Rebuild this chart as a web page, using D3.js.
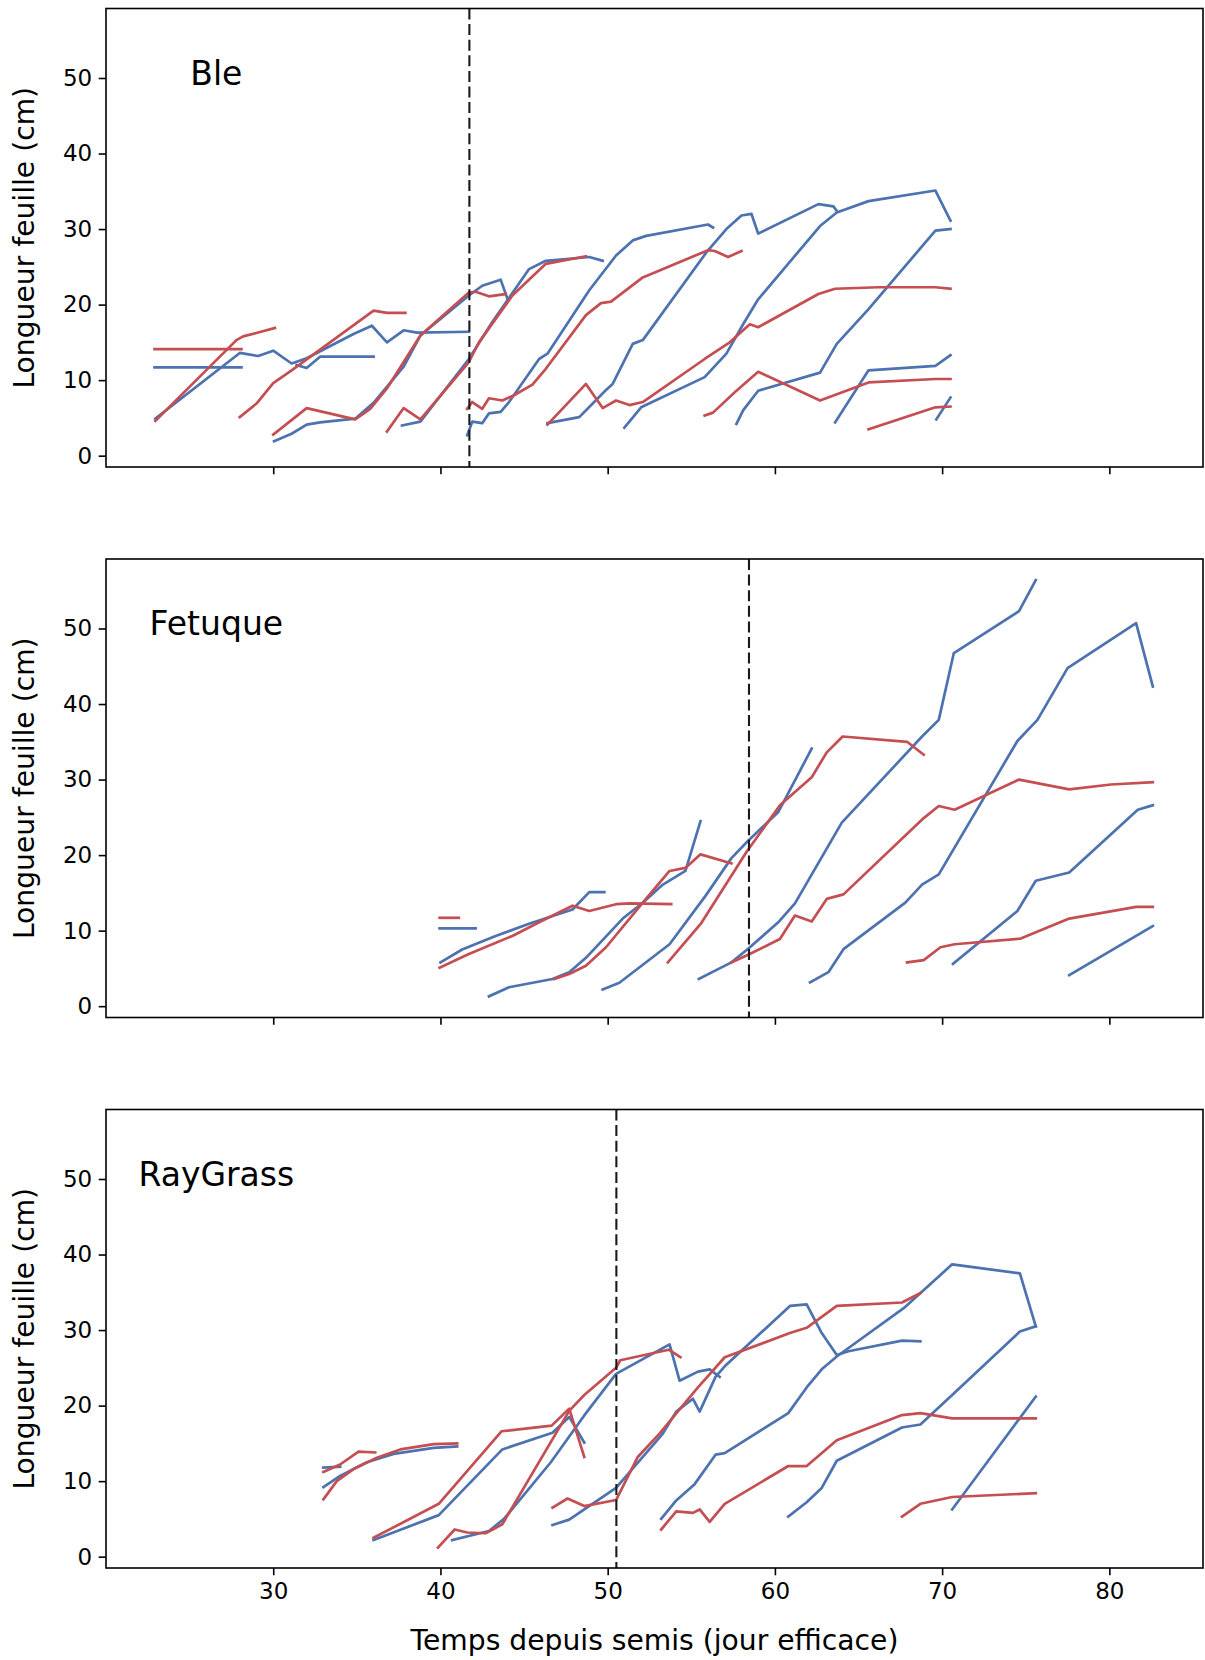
<!DOCTYPE html>
<html>
<head>
<meta charset="utf-8">
<script src="https://d3js.org/d3.v7.min.js"></script>
<style>
  body { margin: 0; background: #ffffff; }
  svg { display: block; font-family: "DejaVu Sans", sans-serif; }
  .leaf { fill: none; stroke-width: 2.7; stroke-linejoin: round; stroke-linecap: square; }
  .frame { fill: none; stroke: #000000; stroke-width: 1.6; }
  .axis text { font-size: 23px; fill: #000000; font-family: "DejaVu Sans", sans-serif; }
  .axis line { stroke: #000000; stroke-width: 1.6; }
</style>
</head>
<body>
<svg id="canvas" width="1205" height="1660"></svg>
<script>
  // panels (one per species), each with blue and red leaf curves
  const species = ["Ble", "Fetuque", "RayGrass"];
  const xTicks = [30, 40, 50, 60, 70, 80];
  const yTicks = [0, 10, 20, 30, 40, 50];
  const dashX = [41.73, 58.45, 50.52];

  const bleBlue = [
    [[22.9,11.7],[28.1,11.7]],
    [[22.95,4.9],[28.0,13.6],[29.1,13.2],[30.0,13.9],[31.1,12.2],[32.0,12.9],[34.8,16.1],[35.9,17.2],[36.8,15.0],[37.8,16.6],[38.6,16.3],[41.7,16.4]],
    [[31.4,12.0],[32.0,11.6],[32.8,13.1],[36.0,13.1]],
    [[30.05,1.9],[31.1,2.9],[32.0,4.1],[32.8,4.4],[34.9,4.9],[36.0,7.0],[37.8,11.8],[38.8,15.9],[41.7,21.2],[42.5,22.5],[43.6,23.3],[44.0,20.8]],
    [[37.7,4.0],[38.8,4.5],[41.7,12.8],[43.1,17.7],[45.3,24.7],[46.3,25.8],[48.9,26.3],[49.7,25.8]],
    [[41.6,2.7],[41.9,4.5],[42.5,4.3],[42.9,5.6],[43.6,5.8],[44.1,7.1],[45.9,12.8],[46.4,13.5],[48.9,21.9],[50.5,26.5],[51.5,28.5],[52.3,29.1],[56.0,30.6],[56.3,30.2]],
    [[46.4,4.3],[48.3,5.1],[49.9,8.7],[50.3,9.5],[51.5,14.8],[52.1,15.3],[55.9,26.9],[57.1,30.0],[58.0,31.8],[58.6,32.0],[59.0,29.4],[62.6,33.3],[63.5,33.0],[63.7,32.4]],
    [[51.0,3.7],[52.0,6.4],[55.8,10.4],[57.1,13.5],[58.1,17.4],[59.0,20.7],[62.7,30.4],[63.7,32.2],[65.6,33.7],[69.6,35.1],[70.5,31.1]],
    [[57.7,4.2],[58.1,6.0],[59.0,8.6],[62.7,11.0],[63.7,14.8],[65.6,19.4],[69.6,29.8],[70.5,30.0]],
    [[63.6,4.4],[65.6,11.3],[69.6,11.9],[70.5,13.3]],
    [[69.65,4.8],[70.5,7.7]]
  ];
  const bleRed = [
    [[22.9,14.1],[28.1,14.1]],
    [[22.95,4.6],[27.8,15.3],[28.2,15.8],[29.1,16.3],[30.1,16.9]],
    [[28.0,5.1],[29.0,6.9],[30.0,9.6],[31.1,11.3],[36.0,19.2],[36.8,18.9],[37.9,18.9]],
    [[30.0,2.8],[32.0,6.3],[34.9,4.8],[35.8,6.2],[36.8,8.9],[38.8,15.9],[41.7,21.6],[42.1,21.7],[42.9,21.1],[43.9,21.4]],
    [[36.8,3.2],[37.8,6.3],[38.8,4.8],[41.7,12.4],[42.3,15.0],[44.3,21.2],[46.3,25.4],[48.7,26.4]],
    [[41.6,6.2],[41.9,7.1],[42.5,6.2],[42.9,7.6],[43.7,7.3],[44.4,8.0],[45.5,9.4],[46.3,11.5],[48.7,18.6],[49.6,20.2],[50.2,20.4],[52.1,23.6],[56.0,27.2],[56.4,27.1],[57.2,26.3],[58.0,27.1]],
    [[46.4,4.1],[48.7,9.5],[49.7,6.3],[50.5,7.3],[51.3,6.7],[52.1,7.1],[55.8,12.8],[57.3,15.0],[58.5,17.4],[59.0,17.0],[62.6,21.4],[63.6,22.1],[66.2,22.3],[69.6,22.3],[70.5,22.1]],
    [[55.8,5.3],[56.3,5.7],[57.6,8.4],[59.0,11.1],[62.7,7.3],[65.6,9.7],[69.6,10.15],[70.5,10.15]],
    [[65.6,3.5],[69.6,6.4],[70.5,6.5]]
  ];

  const fetuqueBlue = [
    [[39.95,10.3],[42.1,10.3]],
    [[40.0,5.8],[41.3,7.5],[43.3,9.3],[45.3,10.9],[47.9,12.8],[48.9,15.1],[49.8,15.1]],
    [[42.9,1.3],[44.1,2.5],[46.7,3.6],[47.7,4.5],[48.7,6.4],[50.9,11.6],[52.1,13.7],[53.3,16.1],[54.65,17.9],[55.55,24.5]],
    [[49.7,2.2],[50.7,3.1],[53.7,8.2],[55.85,14.6],[57.4,19.6],[58.4,21.9],[60.2,25.7],[62.2,34.1]],
    [[55.45,3.6],[57.4,5.8],[58.4,7.6],[60.2,11.1],[61.2,13.6],[64.0,24.3],[68.8,35.7],[69.8,37.9],[70.7,46.75],[74.6,52.3],[75.6,56.4]],
    [[62.1,3.15],[63.2,4.5],[64.1,7.55],[67.8,13.7],[68.8,16.1],[69.8,17.45],[74.5,35.1],[75.7,37.9],[77.5,44.75],[81.6,50.7],[82.6,42.3]],
    [[70.65,5.6],[74.5,12.6],[75.6,16.6],[77.6,17.7],[81.7,26.0],[82.6,26.6]],
    [[77.6,4.1],[82.6,10.6]]
  ];
  const fetuqueRed = [
    [[39.95,11.7],[41.1,11.7]],
    [[39.95,5.1],[41.7,6.9],[44.3,9.3],[45.9,11.1],[47.9,13.3],[48.9,12.6],[50.5,13.5],[51.3,13.6],[53.8,13.5]],
    [[46.8,3.6],[47.7,4.25],[48.7,5.35],[49.9,7.8],[52.1,13.7],[53.7,17.9],[54.65,18.3],[55.55,20.1],[57.4,18.9]],
    [[53.6,5.8],[55.6,11.0],[58.3,20.4],[60.3,26.6],[62.2,30.3],[63.1,33.6],[64.05,35.7],[67.9,35.0],[68.9,33.3]],
    [[57.4,5.8],[58.4,6.8],[60.3,8.9],[61.2,12.0],[62.2,11.2],[63.1,14.2],[64.1,14.8],[68.9,24.9],[69.8,26.5],[70.75,26.0],[74.6,30.0],[77.6,28.7],[80.1,29.35],[82.6,29.65]],
    [[67.9,5.8],[68.9,6.1],[69.9,7.8],[70.75,8.2],[74.7,8.95],[77.6,11.6],[81.6,13.15],[82.6,13.15]]
  ];

  const raygrassBlue = [
    [[33.0,11.8],[34.0,11.9]],
    [[33.0,9.2],[34.0,10.7],[35.6,12.5],[37.2,13.6],[39.6,14.4],[41.0,14.6]],
    [[36.0,2.2],[39.9,5.5],[43.7,14.2],[46.7,16.4],[47.7,18.5],[48.6,15.1]],
    [[40.7,2.2],[42.9,3.4],[43.8,5.0],[46.6,12.5],[48.6,18.7],[50.5,24.2],[53.7,28.1],[54.3,23.3],[55.4,24.5],[56.1,24.8],[56.7,23.8]],
    [[46.7,4.2],[47.7,4.9],[50.5,9.1],[53.3,16.3],[54.1,19.2],[55.1,20.9],[55.5,19.2],[56.45,23.8],[57.0,25.2],[60.9,33.2],[61.9,33.4],[62.8,29.6],[63.7,26.7],[64.4,27.2],[67.6,28.6],[68.7,28.5]],
    [[53.2,5.0],[54.1,7.45],[55.2,9.6],[56.45,13.5],[57.0,13.7],[60.8,19.0],[61.9,22.4],[62.8,24.8],[63.7,26.5],[67.7,32.9],[70.6,38.7],[74.65,37.5],[75.6,30.5]],
    [[60.8,5.3],[61.9,7.2],[62.8,9.1],[63.7,12.7],[67.6,17.1],[68.7,17.5],[70.6,21.4],[74.65,29.8],[75.6,30.5]],
    [[70.6,6.25],[75.6,21.2]]
  ];
  const raygrassRed = [
    [[33.0,11.2],[34.0,12.2],[35.1,13.9],[36.1,13.8]],
    [[33.0,7.6],[33.8,10.0],[34.8,11.6],[36.2,13.1],[37.6,14.2],[39.6,14.9],[41.0,15.0]],
    [[36.0,2.5],[39.9,7.0],[43.65,16.6],[46.65,17.35],[47.7,19.6],[48.6,13.2]],
    [[39.85,1.2],[40.85,3.6],[41.6,3.2],[42.7,3.1],[43.7,4.3],[47.7,19.3],[48.6,21.4],[50.5,25.0],[50.75,26.0],[53.65,27.4],[54.35,26.4]],
    [[46.7,6.5],[47.6,7.7],[48.6,6.7],[50.5,7.5],[51.8,13.2],[53.1,16.3],[54.3,19.5],[55.4,22.4],[57.0,26.4],[60.9,29.6],[61.9,30.3],[63.7,33.2],[67.6,33.65],[68.7,34.9]],
    [[53.2,3.6],[54.1,6.0],[55.1,5.8],[55.5,6.25],[56.1,4.6],[57.0,7.0],[60.8,12.0],[61.9,12.0],[63.7,15.4],[67.6,18.75],[68.7,19.0],[70.6,18.3],[75.6,18.3]],
    [[67.6,5.3],[68.7,7.0],[70.6,7.9],[75.6,8.4]]
  ];

  const blueSeries = [bleBlue, fetuqueBlue, raygrassBlue];
  const redSeries = [bleRed, fetuqueRed, raygrassRed];

  const svg = d3.select("#canvas");
  const left = 106, right = 1203;
  const panelTops = [8.5, 559, 1109.5];
  const panelH = 458.5;

  const x = d3.scaleLinear().domain([20.0, 85.6]).range([left, right]);

  species.forEach((name, i) => {
    const top = panelTops[i];
    const y = d3.scaleLinear().domain([-1.5, 59.2]).range([top + panelH, top]);
    const g = svg.append("g");

    const line = d3.line().x(d => x(d[0])).y(d => y(d[1]));

    g.append("g").selectAll("path")
      .data(blueSeries[i])
      .join("path")
        .attr("class", "leaf")
        .attr("stroke", "#4c72b0")
        .attr("d", line);

    g.append("g").selectAll("path")
      .data(redSeries[i])
      .join("path")
        .attr("class", "leaf")
        .attr("stroke", "#c44e52")
        .attr("d", line);

    g.append("line")
      .attr("x1", x(dashX[i])).attr("x2", x(dashX[i]))
      .attr("y1", top).attr("y2", top + panelH)
      .attr("stroke", "#1a1a1a")
      .attr("stroke-width", 2.1)
      .attr("stroke-dasharray", "11,4.6");

    g.append("text")
      .attr("x", x(26.6))
      .attr("y", y(49.1))
      .attr("text-anchor", "middle")
      .attr("font-size", "33px")
      .attr("fill", "#000")
      .text(name);

    // axes
    const yAxis = d3.axisLeft(y).tickValues(yTicks).tickSize(7.3).tickPadding(6.5);
    g.append("g")
      .attr("class", "axis")
      .attr("transform", `translate(${left},0)`)
      .call(yAxis)
      .call(a => a.select(".domain").remove());

    const xAxis = d3.axisBottom(x).tickValues(xTicks).tickSize(7.3).tickPadding(7.3)
      .tickFormat(i === species.length - 1 ? d3.format("d") : () => "");
    g.append("g")
      .attr("class", "axis")
      .attr("transform", `translate(0,${top + panelH})`)
      .call(xAxis)
      .call(a => a.select(".domain").remove());

    g.append("rect")
      .attr("class", "frame")
      .attr("x", left).attr("y", top)
      .attr("width", right - left).attr("height", panelH);

    g.append("text")
      .attr("transform", `translate(33.5,${top + panelH / 2}) rotate(-90)`)
      .attr("text-anchor", "middle")
      .attr("font-size", "28.2px")
      .text("Longueur feuille (cm)");
  });

  svg.append("text")
    .attr("x", (left + right) / 2)
    .attr("y", 1650)
    .attr("text-anchor", "middle")
    .attr("font-size", "28.2px")
    .text("Temps depuis semis (jour efficace)");
</script>
</body>
</html>
